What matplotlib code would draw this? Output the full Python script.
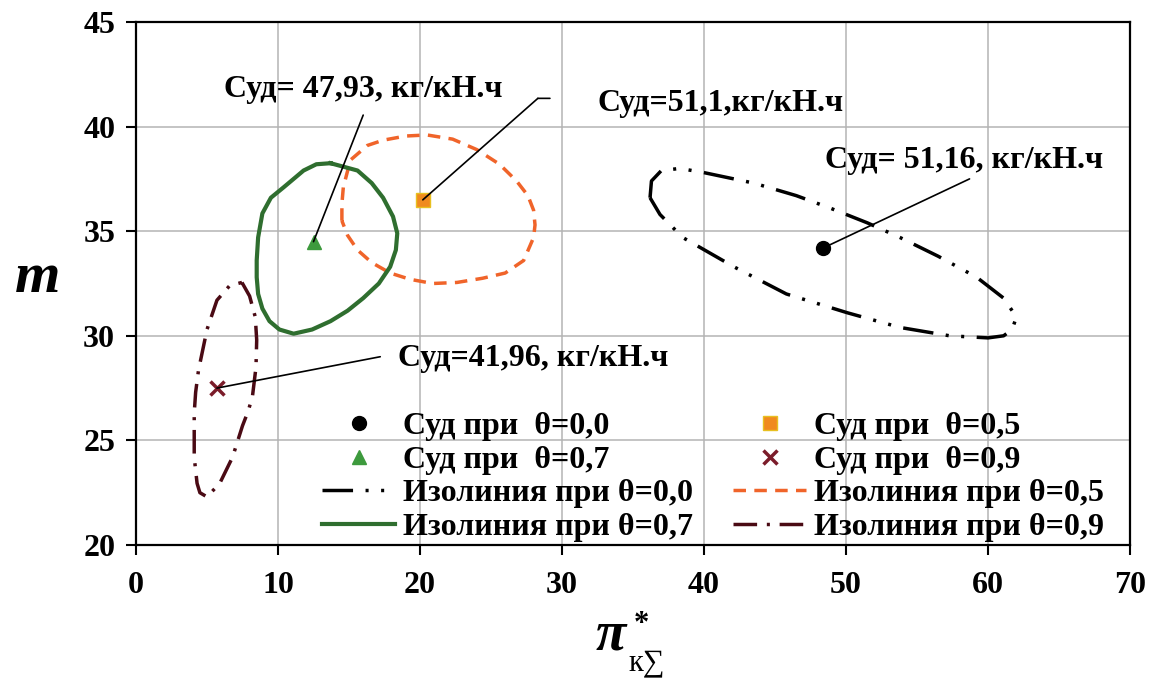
import matplotlib
matplotlib.use("Agg")
import matplotlib.pyplot as plt

plt.rcParams['font.family'] = ['Liberation Serif', 'DejaVu Serif']
plt.rcParams['font.weight'] = 'bold'
plt.rcParams['lines.scale_dashes'] = False

# ---------------- data ----------------
# Isoline theta = 0.0
iso00_x = [36.2, 36.3, 37.0, 38.3, 40.0, 43.5, 46.5, 48.9, 51.5, 53.8, 56.5, 59.2, 61.1, 62.0,
           61.7, 61.1, 60.0, 57.3, 53.8, 50.1, 45.8, 42.1, 38.5, 36.9, 36.2]
iso00_y = [36.6, 37.4, 37.9, 38.0, 37.8, 37.3, 36.7, 36.1, 35.4, 34.7, 33.8, 32.8, 31.8, 30.9,
           30.3, 30.0, 29.9, 30.0, 30.4, 31.1, 32.0, 33.3, 34.7, 35.8, 36.6]
# Isoline theta = 0.5
iso05_x = [14.5, 14.5, 14.6, 15.1, 16.3, 17.4, 19.0, 20.5, 22.3, 24.0, 25.6, 26.8, 27.6, 28.0,
           28.1, 28.0, 27.3, 26.0, 24.4, 22.6, 20.9, 19.3, 17.9, 16.6, 15.6, 14.9, 14.5]
iso05_y = [35.5, 36.3, 37.1, 38.4, 39.1, 39.35, 39.55, 39.6, 39.4, 38.9, 38.2, 37.4, 36.7, 36.0,
           35.3, 34.7, 33.6, 33.0, 32.75, 32.55, 32.5, 32.7, 33.0, 33.5, 34.1, 34.8, 35.5]
# Isoline theta = 0.7
iso07_x = [13.7, 15.6, 16.6, 17.4, 18.1, 18.4, 18.3, 17.9, 17.1, 16.0, 14.9, 13.7, 12.4, 11.1,
           10.1, 9.4, 8.9, 8.6, 8.5, 8.5, 8.6, 8.9, 9.5, 10.4, 11.8, 12.7, 13.7]
iso07_y = [38.25, 37.9, 37.3, 36.6, 35.7, 34.9, 34.1, 33.3, 32.5, 31.8, 31.2, 30.7, 30.3, 30.1,
           30.3, 30.7, 31.3, 32.0, 32.8, 33.6, 34.7, 35.85, 36.6, 37.1, 37.9, 38.2, 38.25]
# Isoline theta = 0.9
iso09_x = [7.46, 8.0, 8.4, 8.5, 8.45, 8.2, 7.9, 7.5, 6.8, 5.9, 5.0, 4.5, 4.3, 4.1, 4.1, 4.2,
           4.4, 5.0, 5.7, 6.6, 7.46]
iso09_y = [32.55, 31.9, 30.9, 29.8, 28.5, 27.1, 26.4, 25.7, 24.2, 22.95, 22.3, 22.5, 22.95, 24.2,
           26.3, 27.3, 28.35, 30.3, 31.7, 32.4, 32.55]

# Optimum points (Суд)
pt00 = (48.4, 34.2)
pt05 = (20.2, 36.5)
pt07 = (12.5, 34.5)
pt09 = (5.7, 27.5)

ann_texts = ["Суд= 47,93, кг/кН.ч", "Суд=51,1,кг/кН.ч", "Суд= 51,16, кг/кН.ч", "Суд=41,96, кг/кН.ч"]
leg1_labels = ['Суд при  θ=0,0', 'Суд при  θ=0,7', 'Изолиния при θ=0,0', 'Изолиния при θ=0,7']
leg2_labels = ['Суд при  θ=0,5', 'Суд при  θ=0,9', 'Изолиния при θ=0,5', 'Изолиния при θ=0,9']

xticks = [0, 10, 20, 30, 40, 50, 60, 70]
yticks = [20, 25, 30, 35, 40, 45]

# ---------------- figure ----------------
W, H = 1152, 681
fig = plt.figure(figsize=(W / 100, H / 100), dpi=100)
ax = fig.add_axes([136 / W, 1 - 545 / H, (1130 - 136) / W, (545 - 22) / H])
ax.set_xlim(0, 70)
ax.set_ylim(20, 45)
ax.set_xticks(xticks)
ax.set_yticks(yticks)
ax.grid(True, color='#b4b4b4', lw=1.1)
ax.set_axisbelow(True)
for s in ax.spines.values():
    s.set_linewidth(1.6)
    s.set_color('black')
ax.tick_params(axis='both', which='both', direction='out', length=7, width=1.5,
               labelsize=23, top=False, right=False)
ax.tick_params(axis='y', pad=8)
ax.tick_params(axis='x', pad=12)
for lab in ax.get_xticklabels() + ax.get_yticklabels():
    lab.set_fontweight('bold')

c_black = '#000000'
c_orange = '#f0642a'
c_green = '#2f6e2f'
c_maroon = '#4a0a14'

l00, = ax.plot(iso00_x, iso00_y, color=c_black, lw=2.5, dashes=(22, 9, 2.2, 9, 2.2, 9),
               dash_capstyle='butt')
l05, = ax.plot(iso05_x, iso05_y, color=c_orange, lw=2.5, dashes=(9, 6))
l07, = ax.plot(iso07_x, iso07_y, color=c_green, lw=3.0)
l09, = ax.plot(iso09_x, iso09_y, color=c_maroon, lw=2.5, dashes=(17, 7, 2.2, 7),
               dash_capstyle='butt')

m00, = ax.plot([pt00[0]], [pt00[1]], 'o', color='black', ms=10, ls='none')
m05, = ax.plot([pt05[0]], [pt05[1]], 's', color='#f08a1e', mec='#e8c020', mew=1, ms=10, ls='none')
m07, = ax.plot([pt07[0]], [pt07[1]], '^', color='#3d9a3d', ms=10, ls='none')
m09, = ax.plot([pt09[0]], [pt09[1]], 'x', color='#7b1c2a', ms=10, mew=2.5, ls='none')

# annotations
afs = 23
arrow = dict(arrowstyle='-', color='black', lw=1.2, shrinkA=0, shrinkB=0)
ax.annotate('', xy=pt07, xytext=(16.0, 40.55), arrowprops=arrow)
ax.text(16.0, 41.75, ann_texts[0], ha='center', va='center', fontsize=afs, fontweight='bold')

ax.annotate('', xy=pt05, xytext=(28.3, 41.35), arrowprops=arrow)
ax.annotate('', xy=(28.3, 41.35), xytext=(29.15, 41.35), arrowprops=arrow)
ax.text(32.5, 41.1, ann_texts[1], ha='left', va='center', fontsize=afs, fontweight='bold')

ax.annotate('', xy=pt00, xytext=(58.7, 37.5), arrowprops=arrow)
ax.text(48.5, 38.4, ann_texts[2], ha='left', va='center', fontsize=afs, fontweight='bold')

ax.annotate('', xy=pt09, xytext=(17.2, 29.0), arrowprops=arrow)
ax.text(18.45, 28.9, ann_texts[3], ha='left', va='center', fontsize=afs, fontweight='bold')

# legends (two columns)
lfs = 23
leg_kw = dict(frameon=False, fontsize=lfs, handlelength=2.3, handletextpad=0.25,
              labelspacing=0.13, borderpad=0, borderaxespad=0, loc='upper left')
leg1 = fig.legend([m00, m07, l00, l07], leg1_labels,
                  bbox_to_anchor=(322 / W, 1 - 412 / H), **leg_kw)
leg2 = fig.legend([m05, m09, l05, l09], leg2_labels,
                  bbox_to_anchor=(733 / W, 1 - 412 / H), **leg_kw)
for lg in (leg1, leg2):
    for t in lg.get_texts():
        t.set_fontweight('bold')

# axis labels
fig.text(38 / W, 1 - 278 / H, 'm', fontsize=42, fontweight='bold', fontstyle='italic',
         ha='center', va='center')
fig.text(611 / W, 1 - 650 / H, 'π', fontsize=40, fontweight='bold', fontstyle='italic',
         ha='center', va='baseline')
fig.text(641 / W, 1 - 632 / H, '*', fontsize=22, fontweight='bold', ha='center', va='baseline')
fig.text(628 / W, 1 - 670 / H, 'к∑', fontsize=22, fontweight='normal', ha='left', va='baseline')

fig.savefig('out.png', dpi=100)
